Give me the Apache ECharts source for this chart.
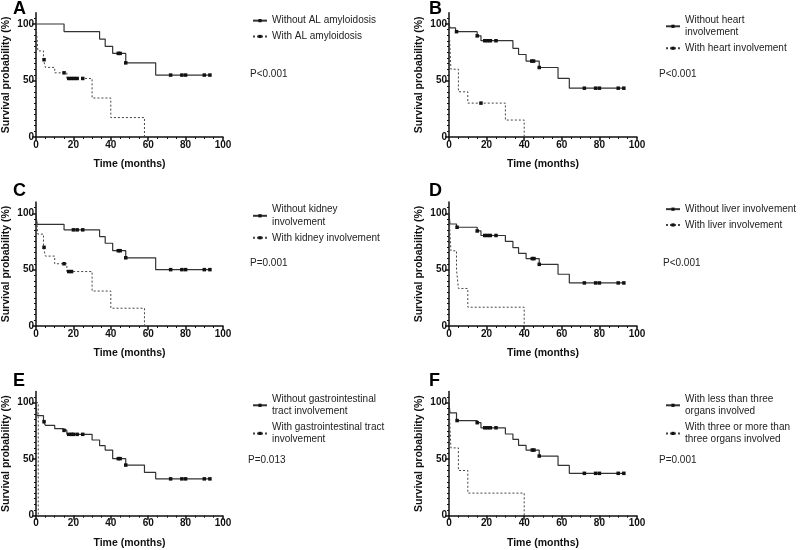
<!DOCTYPE html>
<html><head><meta charset="utf-8">
<script src="https://cdn.jsdelivr.net/npm/echarts@6/dist/echarts.min.js"></script>
<style>html,body{margin:0;padding:0;background:#fff}#c{width:800px;height:550px}</style>
</head><body><div id="c"></div>
<script>
// ---------- DATA ----------
const xTickLabels = [0, 20, 40, 60, 80, 100];
const yTickLabels = [0, 50, 100];
const panelLetters = ['A', 'B', 'C', 'D', 'E', 'F'];
const pValues = ['P<0.001', 'P<0.001', 'P=0.001', 'P<0.001', 'P=0.013', 'P=0.001'];
const xAxisTitle = 'Time (months)';
const yAxisTitle = 'Survival probability (%)';
const legendSolid = ['Without AL amyloidosis', 'Without heart\ninvolvement', 'Without kidney\ninvolvement',
  'Without liver involvement', 'Without gastrointestinal\ntract involvement', 'With less than three\norgans involved'];
const legendDashed = ['With AL amyloidosis', 'With heart involvement', 'With kidney involvement',
  'With liver involvement', 'With gastrointestinal tract\ninvolvement', 'With three or more than\nthree organs involved'];

// Kaplan-Meier steps: [time (months), survival (%)] and censor times
const A_solidSteps = [[0,100],[15,93.3],[34,86.7],[37,80.2],[41,74],[48,65.6],[64,54.8]];
const A_solidCensor = [44,45,48,72,78,80,90,93];
const A_dashSteps = [[0,100],[1,76.2],[4,68.4],[5,61.6],[10,56.8],[16.5,51.8],[30,34.5],[40,17.2],[58,0]];
const A_dashCensor = [4.3,15,17.5,19,20.5,22,25];

const B_solidSteps = [[0,100],[0.5,96.5],[3.5,93.2],[15,89.5],[17,85.2],[34,78.5],[37,73],[41,67.2],[48,61.5],[58,51.8],[64,43.2]];
const B_solidCensor = [4,15,19,20.5,22,25,44,45,48,72,78,80,90,93];
const B_dashSteps = [[0,100],[1,60],[5,40],[10,30],[30,15],[40,0]];
const B_dashCensor = [17];

const C_solidSteps = [[0,100],[0.5,90.2],[15,85.3],[34,79.3],[37,73.4],[41,66.8],[48,60.5],[64,50]];
const C_solidCensor = [20,22,25,44,45,48,72,78,80,90,93];
const C_dashSteps = [[0,100],[1,81.5],[4,69.8],[5,62],[10,55.2],[16.5,48.3],[30,31],[40,15.8],[58,0]];
const C_dashCensor = [4.3,15,17.5,19];

const D_solidSteps = [[0,100],[0.5,90.5],[4,87.6],[15,84.3],[17,80.3],[30,75],[34,69.5],[37,64.5],[41,59.8],[48,54.7],[58,45.9],[64,38.2]];
const D_solidCensor = [4.3,15,19,20.5,22,25,44.3,45.2,48,72,78,80,90,93];
const D_dashSteps = [[0,100],[1,66.7],[4,50],[5,33.3],[10,16.7],[40,0]];
const D_dashCensor = [];

const E_solidSteps = [[0,100],[0.5,88.5],[4,83.2],[5,80],[10,77],[14.5,75.5],[16.5,72],[30,67],[34,62],[37,58.1],[41,50.5],[48,44.8],[58,38.3],[64,32.6]];
const E_solidCensor = [4.3,15,17.5,19,20,22,25,44,45,48,72,78,80,90,93];
const E_dashSteps = [[0,100],[1.2,0]];
const E_dashCensor = [];

const F_solidSteps = [[0,100],[0.5,91],[4,84.2],[15,82.3],[17,77.8],[30,72.3],[34,67.5],[37,62.2],[41,58.1],[48,52.8],[58,44.5],[64,37.5]];
const F_solidCensor = [4.3,15,19,20.5,22,25,44.3,45.2,48,72,78,80,90,93];
const F_dashSteps = [[0,100],[1,60],[5,40],[10,20],[40,0]];
const F_dashCensor = [];

const curves = [
  [A_solidSteps, A_solidCensor, A_dashSteps, A_dashCensor],
  [B_solidSteps, B_solidCensor, B_dashSteps, B_dashCensor],
  [C_solidSteps, C_solidCensor, C_dashSteps, C_dashCensor],
  [D_solidSteps, D_solidCensor, D_dashSteps, D_dashCensor],
  [E_solidSteps, E_solidCensor, E_dashSteps, E_dashCensor],
  [F_solidSteps, F_solidCensor, F_dashSteps, F_dashCensor]
];

// ---------- LAYOUT ----------
const layout = [
  {left:36,  top:12.7,  width:187, height:124.3, lgL:252, lgT:14.5, pX:250, pY:74,    lx:13,  ly:9},
  {left:449, top:12.7,  width:188, height:124.3, lgL:665, lgT:14,   pX:659, pY:74,    lx:429, ly:9},
  {left:36,  top:202,   width:187, height:124,   lgL:252, lgT:203.5,pX:250, pY:263.5, lx:13,  ly:191.5},
  {left:449, top:202,   width:188, height:124,   lgL:665, lgT:203,  pX:663, pY:263.5, lx:429, ly:191.5},
  {left:36,  top:391.4, width:187, height:124.3, lgL:252, lgT:393,  pX:248, pY:460,   lx:13,  ly:381},
  {left:449, top:391.4, width:188, height:124.3, lgL:665, lgT:393,  pX:659, pY:460,   lx:429, ly:381}
];
const FONT = 'Arial, "Liberation Sans", Helvetica, sans-serif';

function survAt(steps, t) {
  let s = steps[0][1];
  for (const p of steps) { if (p[0] <= t) s = p[1]; }
  return s;
}
function buildData(steps, censors) {
  const pts = steps.map(p => ({ value: [p[0], p[1]], none: true, k: 0 }));
  censors.forEach(t => pts.push({ value: [t, survAt(steps, t)], none: false, k: 1 }));
  pts.sort((a, b) => (a.value[0] - b.value[0]) || (a.k - b.k));
  return pts.map(p => p.none ? { value: p.value, symbol: 'none' } : { value: p.value });
}

const grid = [], xAxis = [], yAxis = [], series = [], legend = [], graphic = [];
layout.forEach((L, i) => {
  grid.push({ left: L.left, top: L.top, width: L.width, height: L.height, containLabel: false, outerBoundsMode: 'none' });
  xAxis.push({
    type: 'value', gridIndex: i, min: 0, max: 100, interval: 20,
    axisLine: { lineStyle: { color: '#111', width: 1.5 } },
    axisTick: { length: 4, lineStyle: { color: '#111', width: 1.5 } },
    minorTick: { show: true, splitNumber: 4, length: 2, lineStyle: { color: '#111', width: 1 } },
    splitLine: { show: false },
    axisLabel: { customValues: xTickLabels, fontSize: 10, fontWeight: 'bold', color: '#111', margin: 3, fontFamily: FONT },
    name: xAxisTitle, nameLocation: 'middle', nameGap: 22,
    nameTextStyle: { fontSize: 10.5, fontWeight: 'bold', color: '#111', fontFamily: FONT }
  });
  yAxis.push({
    type: 'value', gridIndex: i, min: 0, max: 110, interval: 50,
    axisLine: { show: true, lineStyle: { color: '#111', width: 1.5 } },
    axisTick: { show: true, customValues: yTickLabels, length: 4, lineStyle: { color: '#111', width: 1.5 } },
    minorTick: { show: true, splitNumber: 10, length: 2, lineStyle: { color: '#111', width: 1 } },
    splitLine: { show: false },
    axisLabel: { customValues: yTickLabels, formatter: v => (yTickLabels.indexOf(v) >= 0 ? String(v) : ''),
      fontSize: 10, fontWeight: 'bold', color: '#111', margin: 2, fontFamily: FONT },
    name: yAxisTitle, nameLocation: 'middle', nameGap: 24,
    nameTextStyle: { fontSize: 10.5, fontWeight: 'bold', color: '#111', fontFamily: FONT }
  });
  const c = curves[i];
  series.push({
    type: 'line', name: legendSolid[i], xAxisIndex: i, yAxisIndex: i, step: 'end',
    data: buildData(c[0], c[1]), symbol: 'rect', symbolSize: 3.5, showSymbol: true,
    lineStyle: { color: '#333', width: 1.2, type: 'solid' }, itemStyle: { color: '#111' },
    silent: true, animation: false, z: 3
  });
  series.push({
    type: 'line', name: legendDashed[i], xAxisIndex: i, yAxisIndex: i, step: 'end',
    data: buildData(c[2], c[3]), symbol: 'rect', symbolSize: 3.5, showSymbol: true,
    lineStyle: { color: '#444', width: 1, type: [2, 2] }, itemStyle: { color: '#111' },
    silent: true, animation: false, z: 2
  });
  legend.push({
    data: [legendSolid[i], legendDashed[i]], orient: 'vertical', left: L.lgL, top: L.lgT,
    padding: 0, itemGap: 3.5, itemWidth: 14, itemHeight: 4, selectedMode: false,
    textStyle: { fontSize: 10, color: '#222', lineHeight: 12.3, fontFamily: FONT }
  });
  graphic.push({ type: 'text', x: L.lx, y: L.ly, silent: true,
    style: { text: panelLetters[i], font: 'bold 18px ' + FONT, fill: '#000', textAlign: 'left', textVerticalAlign: 'middle' } });
  graphic.push({ type: 'text', x: L.pX, y: L.pY, silent: true,
    style: { text: pValues[i], font: '10px ' + FONT, fill: '#222', textAlign: 'left', textVerticalAlign: 'middle' } });
});

const chart = echarts.init(document.getElementById('c'), null, { renderer: 'canvas' });
chart.setOption({ animation: false, backgroundColor: '#fff', grid, xAxis, yAxis, series, legend, graphic });
</script>
</body></html>
